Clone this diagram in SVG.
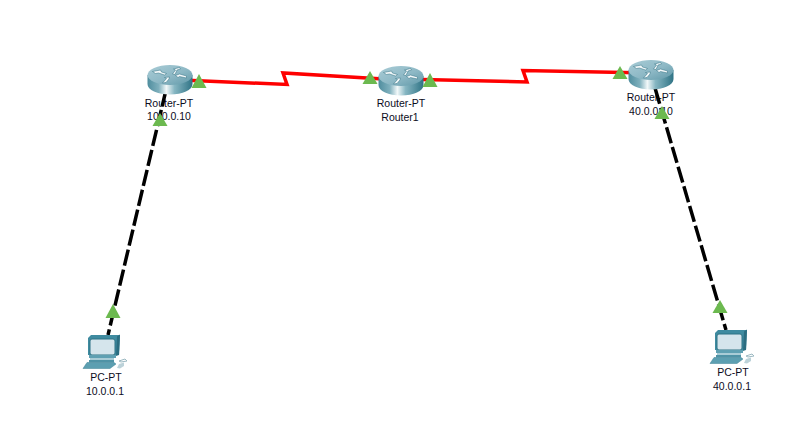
<svg xmlns="http://www.w3.org/2000/svg" xmlns:xlink="http://www.w3.org/1999/xlink" width="811" height="421" viewBox="0 0 811 421">
<style>
text{font-family:"Liberation Sans",Arial,sans-serif;font-size:10.5px;fill:#0c0c1c;text-anchor:middle}
.serial{fill:none;stroke:#fe0000;stroke-width:3.500}
.eth{fill:none;stroke:#000;stroke-width:3.500;stroke-dasharray:16.500 4}
.tri{fill:#6cb94f}
</style>
<defs>
<linearGradient id="rb" x1="0" x2="1" y1="0" y2="0">
<stop offset="0" stop-color="#4f8d9e"/><stop offset="0.25" stop-color="#7fb0bd"/><stop offset="0.42" stop-color="#f2f8f9"/><stop offset="0.6" stop-color="#86b6c2"/><stop offset="1" stop-color="#2f7385"/>
</linearGradient>
<linearGradient id="rt" x1="0" x2="1" y1="0" y2="1">
<stop offset="0" stop-color="#a9ccd6"/><stop offset="0.55" stop-color="#8db8c5"/><stop offset="1" stop-color="#5f98a8"/>
</linearGradient>
<symbol id="router" width="45" height="30" viewBox="0 0 45 30" overflow="visible">
<path d="M0 10V19C0 25 10 29.500 22.500 29.500S45 25 45 19V10Z" fill="url(#rb)"/>
<ellipse cx="22.500" cy="10" rx="22.500" ry="10" fill="url(#rt)"/>
<path d="M5 6.500 13 5 14 7 19 8.500 17 10 11 8 8 8.500ZM25 9 28 5 26 4 32 2.500 33 4 29.500 5 27.500 9.500ZM15 18 19 13.500 17 12.500 22 12 21.500 14 18.500 17.500ZM28 10.500 32 9 39 11 39 13 32 11.500 30.500 12.500Z" fill="#f4f9fa" stroke="#2f6e80" stroke-width=".5"/>
</symbol>
<symbol id="pc" width="45" height="37" viewBox="0 0 45 37" overflow="visible">
<path d="M5 5 8 2H37L36 22H5Z" fill="#3f8ba0"/>
<path d="M34 3.500 37 1.500 36 22 33 23Z" fill="#2b6d80"/>
<rect x="7" y="6" width="25" height="16" rx="2" fill="#d5e5ec" stroke="#2f7385"/>
<path d="M6 22H33V25H6Z" fill="#5fa0b2"/>
<path d="M7 25H31V27H7Z" fill="#a9ccd6"/>
<path d="M6 27H31V29.500H6Z" fill="#4f93a6"/>
<path d="M4 29.500H31L33 31 27 35.500H0Z" fill="#5c9fb1" stroke="#3b8195" stroke-width=".5"/>
<path d="M36 28 42 26 44 28 38 29Z" fill="none" stroke="#9cb9c2"/>
<path d="M36 31 41 29.500 41 33 37 35.500 34 35Z" fill="#bcd2d9"/>
</symbol>
</defs>
<rect width="811" height="421" fill="#fff"/>
<g id="labels">
<text x="169" y="107">Router-PT</text><text x="169" y="120">10.0.0.10</text>
<text x="401" y="107">Router-PT</text><text x="400" y="121">Router1</text>
<text x="651" y="101">Router-PT</text><text x="651" y="115">40.0.0.10</text>
<text x="106" y="381">PC-PT</text><text x="105" y="395">10.0.0.1</text>
<text x="733" y="376">PC-PT</text><text x="732" y="390">40.0.0.1</text>
</g>
<g id="connectors">
<polyline class="serial" points="170,79.500 287,84.500 283,73 400,80"/>
<polyline class="serial" points="400,79 527,82 523,70.500 650,73"/>
<line class="eth" x1="166" y1="90" x2="108" y2="335"/>
<line class="eth" x1="655" y1="88" x2="726" y2="330"/>
</g>
<g id="router0"><use xlink:href="#router" href="#router" x="147.500" y="65"/></g>
<g id="router1"><use xlink:href="#router" href="#router" x="378.500" y="66"/></g>
<g id="router2"><use xlink:href="#router" href="#router" x="628.500" y="60"/></g>
<g id="pc0"><use xlink:href="#pc" href="#pc" x="83" y="333"/></g>
<g id="pc1"><use xlink:href="#pc" href="#pc" x="710" y="328"/></g>
<g id="link-lights">
<polygon class="tri" points="199,74 206.500,88 191.500,88"/>
<polygon class="tri" points="160,113 167.500,126 152.500,126"/>
<polygon class="tri" points="113,304 120.500,318 105.500,318"/>
<polygon class="tri" points="370,71 377.500,84 362.500,84"/>
<polygon class="tri" points="430,73 437.500,87 422.500,87"/>
<polygon class="tri" points="620,66 627.500,79 612.500,79"/>
<polygon class="tri" points="662,106 669.500,119 654.500,119"/>
<polygon class="tri" points="720,300 727.500,313 712.500,313"/>
</g>
</svg>
